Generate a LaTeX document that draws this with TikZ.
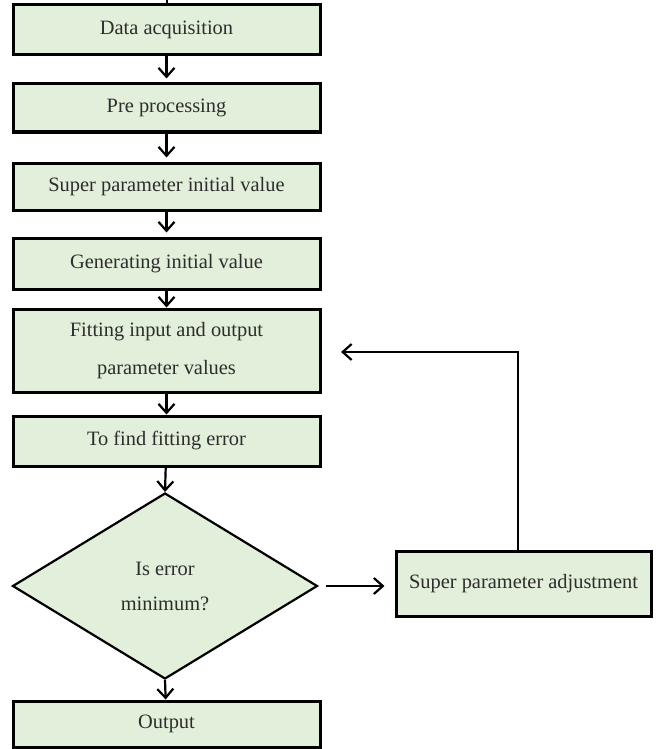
\documentclass[tikz,border=0pt]{standalone}
\usepackage{fontspec}
\setmainfont{Liberation Serif}
\usepackage{tikz}
\usetikzlibrary{arrows.meta,shapes.geometric}
\definecolor{boxgreen}{RGB}{226,239,218}
\definecolor{txtgray}{RGB}{45,45,45}

\begin{document}
\begin{tikzpicture}[x=0.5pt,y=-0.5pt,
        stage/.style={draw,line width=1.5pt,fill=boxgreen,text=txtgray,
            minimum width=153.5pt,align=center,inner sep=2pt,
            font=\fontsize{10.2}{19}\selectfont},
        choice/.style={diamond,draw,line width=1.1pt,fill=boxgreen,text=txtgray,
            minimum width=152.5pt,minimum height=93pt,inner sep=0pt,align=center,
            font=\fontsize{10.2}{17.5}\selectfont},
        flow/.style={line width=1.1pt,-{Straight Barb[length=4.5pt,width=8pt]}}]
    \useasboundingbox (0,0) rectangle (656,749);

    % main column
    \node[stage,minimum height=25pt] (acq) at (166.5,30) {Data acquisition};
    \node[stage,minimum height=24pt] (pre) at (166.5,108) {Pre processing};
    \node[stage,minimum height=23.5pt] (init) at (166.5,186.5) {Super parameter initial value};
    \node[stage,minimum height=25.5pt] (gen) at (166.5,263.5) {Generating initial value};
    \node[stage,minimum height=41.5pt] (fit) at (166.5,350.5) {Fitting input and output\\parameter values};
    \node[stage,minimum height=25pt] (err) at (166.5,441) {To find fitting error};
    \node[choice] (dec) at (165,586) {Is error\\minimum?};
    \node[stage,minimum height=23pt] (out) at (166.5,724) {Output};

    % side branch
    \node[stage,minimum width=127.5pt,minimum height=32.5pt] (adj) at (523.5,583.5) {Super parameter adjustment};
    \coordinate (top) at (166.5,0);
    \coordinate (back) at (341,352);

    \draw[line width=1pt] (top) -- (acq.north);
    \draw[flow,shorten >=2pt] (acq) -- (pre);
    \draw[flow,shorten >=2pt] (pre) -- (init);
    \draw[flow,shorten >=2pt] (init) -- (gen);
    \draw[flow] (gen) -- (fit);
    \draw[flow] (fit) -- (err);
    \draw[flow] (err) -- (dec.north);
    \draw[flow] (dec.south) -- (out);
    \draw[flow,shorten <=3.5pt,shorten >=5pt] (dec.east) -- (dec.east -| adj.west);
    \draw[flow] ([xshift=-2.75pt]adj.north) |- (back);
\end{tikzpicture}
\end{document}
